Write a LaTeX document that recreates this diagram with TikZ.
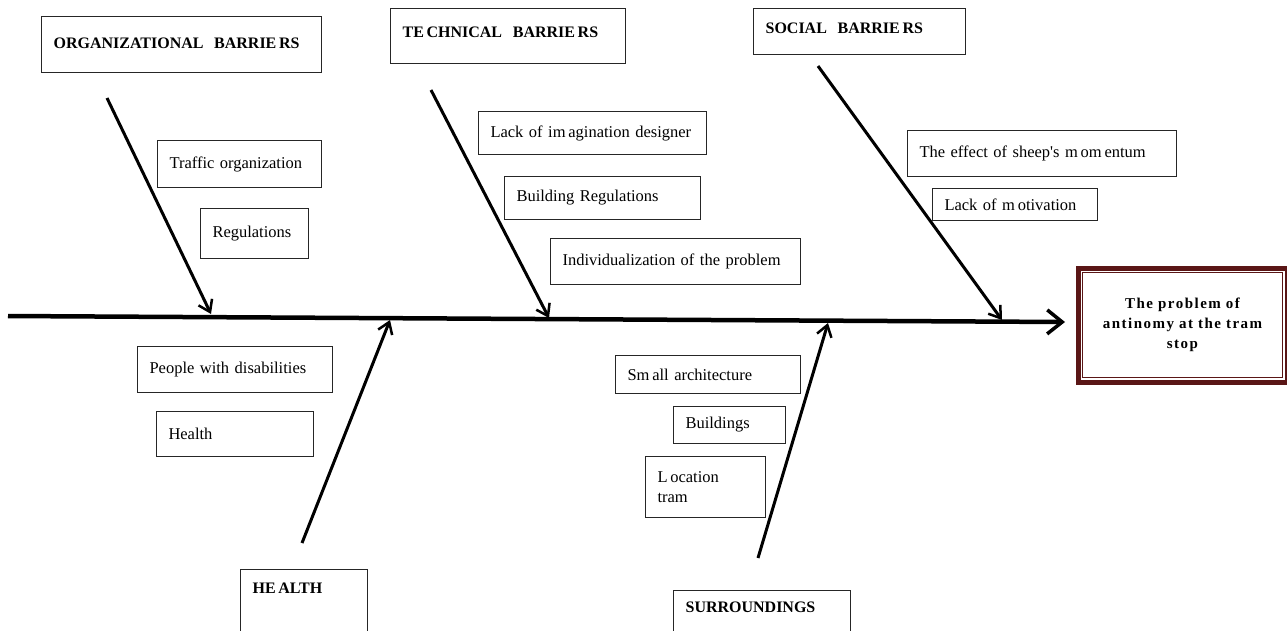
\documentclass[tikz,border=0pt]{standalone}
\usepackage{fontspec}
\setmainfont{Liberation Serif}
\usetikzlibrary{arrows.meta}
\definecolor{effectred}{HTML}{5A1616}

\begin{document}
\begin{tikzpicture}[x=1pt,y=-1pt,
  head/.style={draw=black!85, line width=1.2pt, anchor=north west, align=left, inner xsep=12pt, inner ysep=0pt, font=\fontsize{16}{19}\selectfont\bfseries},
  cause/.style={draw=black!85, line width=1pt, anchor=north west, align=left, inner xsep=12pt, inner ysep=0pt, font=\fontsize{16.5}{20}\selectfont},
  bone/.style={line width=3pt, -{Straight Barb[length=11pt,width=15pt,line width=2.5pt]}},
  spine/.style={line width=4.5pt, -{Straight Barb[length=15pt,width=24pt,line width=3.5pt]}}]
\useasboundingbox (0,0) rectangle (1287,630);
\clip (0,0) rectangle (1287,630);

\node[head, text width=256pt, text height=31.5pt, text depth=24.5pt] (org) at (41,16) {ORGANIZATIONAL\ \ BARRIE\,RS};
\node[head, text width=211pt, text height=28.5pt, text depth=26.5pt] (tech) at (390,8) {TE\,CHNICAL\ \ BARRIE\,RS};
\node[head, text width=188pt, text height=24.5pt, text depth=21.5pt] (social) at (753,8) {SOCIAL\ \ BARRIE\,RS};
\node[head, text width=103pt, text height=23.5pt, text depth=50pt] (health) at (240,569) {HE\,ALTH};
\node[head, text width=153pt, text height=21.5pt, text depth=45pt] (surr) at (673,590) {SURROUNDINGS};

\node[cause, text width=140pt, minimum height=47pt] (traffic) at (157,140) {Traffic organization};
\node[cause, text width=84pt, minimum height=50pt] (regul) at (200,208) {Regulations};
\node[cause, text width=204pt, minimum height=43pt] (imag) at (478,111) {Lack of im\,agination designer};
\node[cause, text width=172pt, minimum height=43pt] (bldreg) at (504,176) {Building Regulations};
\node[cause, text width=226pt, minimum height=46pt] (indiv) at (550,238) {Individualization of the problem};
\node[cause, text width=245pt, minimum height=46pt] (sheep) at (907,130) {The effect of sheep\textquotesingle s m\,om\,entum};
\node[cause, text width=141pt, minimum height=32pt] (motiv) at (932,188) {Lack of m\,otivation};
\node[cause, text width=171pt, minimum height=46pt] (people) at (137,346) {People with disabilities};
\node[cause, text width=133pt, minimum height=45pt] (healthy) at (156,411) {Health};
\node[cause, text width=161pt, minimum height=38pt] (smallarch) at (615,355) {Sm\,all architecture};
\node[cause, text width=88pt, minimum height=37pt] (bldgs) at (673,406) {Buildings};
\node[cause, text width=96pt, minimum height=61pt] (location) at (645,456) {L\,ocation\\tram};

\node[draw=effectred, line width=5pt, anchor=north west, minimum width=209pt, minimum height=114pt, text width=180pt, align=center, font=\fontsize{15}{20}\selectfont\bfseries\addfontfeatures{LetterSpace=10}] (effect) at (1075.5,265.5) {The problem of\\antinomy at the tram\\stop};
\draw[effectred, line width=1.5pt] ([shift={(7,7)}]effect.north west) rectangle ([shift={(-7,-7)}]effect.south east);

\coordinate (tail) at (8,316);
\coordinate (head) at (1065,322);
\draw[spine] (tail) -- (head);

\coordinate (orgtail) at (107,98);
\coordinate (orgtip) at (211,314);
\coordinate (techtail) at (431,90);
\coordinate (techtip) at (549,318);
\coordinate (socialtail) at (818,66);
\coordinate (socialtip) at (1002,320);
\coordinate (healthtail) at (302,543);
\coordinate (healthtip) at (390,320);
\coordinate (surrtail) at (758,558);
\coordinate (surrtip) at (828,323);
\draw[bone] (orgtail) -- (orgtip);
\draw[bone] (techtail) -- (techtip);
\draw[bone] (socialtail) -- (socialtip);
\draw[bone] (healthtail) -- (healthtip);
\draw[bone] (surrtail) -- (surrtip);
\end{tikzpicture}
\end{document}
